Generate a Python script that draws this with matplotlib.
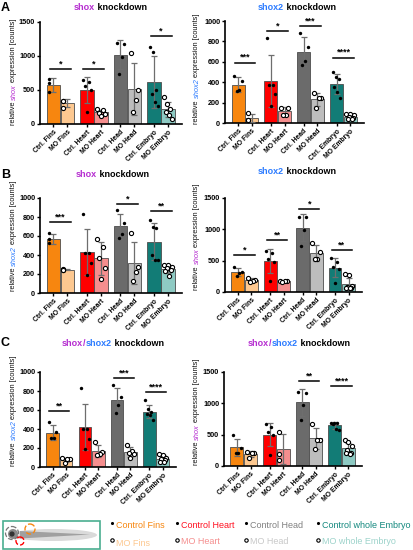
import numpy as np
import matplotlib
matplotlib.use('Agg')
import matplotlib.pyplot as plt
from matplotlib.patches import Ellipse, Circle, Rectangle, Polygon

plt.rcParams['font.family'] = ['Liberation Sans', 'DejaVu Sans']

W, H = 414, 550
fig = plt.figure(figsize=(W / 100, H / 100), dpi=100)

groups = ['Ctrl. Fins', 'MO Fins', 'Ctrl. Heart', 'MO Heart',
          'Ctrl. Head', 'MO Head', 'Ctrl. Embryo', 'MO Embryo']

ctrl_col = ['#F7860F', '#FF0000', '#6B6B6B', '#127C76']
mo_col = ['#FDC890', '#F58E8E', '#BDBDBD', '#8ECAC3']
MAG = '#B52BD0'
BLU = '#2B7BFF'

# ---- values (points per group) ----
# A left: shox knockdown, shox expression
a1_pts = [[660, 596, 464], [345, 340, 240],
          [640, 620, 560, 500, 180], [220, 200, 160, 150, 120],
          [1190, 1180, 985, 733], [1050, 500, 350, 170],
          [1130, 1060, 500, 330, 260, 440], [390, 300, 220, 170, 130, 80]]
a1_sig = [('*', 806), ('*', 806), None, ('*', 1295)]

# A right: shox2 knockdown, shox2 expression
a2_pts = [[456, 414, 326, 309], [95, 30, 30],
          [837, 375, 375, 283, 169], [147, 147, 81, 81],
          [879, 749, 603, 570], [293, 244, 244, 147],
          [500, 455, 430, 350, 300, 250], [90, 85, 80, 60, 50, 40, 35]]
a2_sig = [('***', 593), ('*', 905), ('***', 951), ('****', 642)]

# B left: shox knockdown, shox2 expression
b1_pts = [[629, 565, 523], [250, 245, 240],
          [830, 417, 417, 318, 187], [569, 488, 364, 258, 145],
          [876, 735, 622, 583], [629, 276, 216, 127],
          [770, 700, 682, 399, 346, 346], [300, 290, 275, 260, 245, 230, 180]]
b1_sig = [('***', 746), None, ('*', 936), ('**', 859)]

# B right: shox2 knockdown, shox expression
b2_pts = [[405, 320, 300, 260], [230, 187, 171, 160],
          [660, 620, 530, 480, 170], [175, 170, 170, 165],
          [1189, 1189, 991, 739], [787, 643, 525, 525],
          [540, 485, 400, 360, 150], [280, 270, 90, 80, 70, 60, 60]]
b2_sig = [('*', 589), ('**', 830), ('*', 1323), ('**', 670)]

# C left: shox/shox2 knockdown, shox2 expression
c1_pts = [[474, 368, 305, 305], [95, 85, 80, 40],
          [832, 404, 396, 298, 186], [263, 158, 140, 123],
          [867, 737, 649, 572], [235, 165, 150, 135, 100],
          [702, 614, 579, 561, 544, 498], [140, 125, 100, 85, 70, 55, 50]]
c1_sig = [('**', 586), None, ('***', 937), ('****', 789)]

# C right: shox/shox2 knockdown, shox expression
c2_pts = [[489, 287, 207, 207], [220, 215, 210, 130],
          [665, 622, 543, 500, 181], [543, 197, 90],
          [1181, 1170, 979, 729], [670, 410, 410, 266],
          [690, 685, 680, 675, 585, 570], [410, 383, 319, 250, 207, 207, 197]]
c2_sig = [None, None, ('**', 1351), ('****', 1277)]

xpos = np.array([0, 1, 2.4, 3.4, 4.8, 5.8, 7.2, 8.2])


def px_axes(l, t, r, b):
    return fig.add_axes([l / W, 1 - b / H, (r - l) / W, (b - t) / H])


def measure(s, **kw):
    r = fig.canvas.get_renderer()
    t1 = fig.text(0, 0, s + '|', **kw)
    t2 = fig.text(0, 0, '|', **kw)
    e1, e2 = t1.get_window_extent(r), t2.get_window_extent(r)
    t1.remove(); t2.remove()
    if kw.get('rotation', 0) == 90:
        return e1.height - e2.height
    return e1.width - e2.width


def rich(x, y, parts, rotation=0, anchor='center', **kw):
    # parts: (text, color, extra props); x, y in pixels from top-left
    lens = [measure(s, rotation=rotation, **kw, **ex) for s, c, ex in parts]
    total = sum(lens)
    if rotation == 90:
        pos = (H - y) if anchor == 'start' else (H - y) - total / 2
        for (s, c, ex), ln in zip(parts, lens):
            fig.text(x / W, pos / H, s, color=c, rotation=90, ha='center',
                     va='bottom', **kw, **ex)
            pos += ln
    else:
        pos = x - total / 2
        for (s, c, ex), ln in zip(parts, lens):
            fig.text(pos / W, 1 - y / H, s, color=c, ha='left',
                     va='center', **kw, **ex)
            pos += ln


def panel(box, pts, sig, ymax, step):
    ax = px_axes(*box)
    means = [np.mean(p) for p in pts]
    sds = [np.std(p, ddof=1) for p in pts]
    for i in range(8):
        pair = i // 2
        col = ctrl_col[pair] if i % 2 == 0 else mo_col[pair]
        ax.bar(xpos[i], means[i], width=0.95, color=col,
               edgecolor='#4D4D4D', linewidth=0.6, zorder=2)
        ax.errorbar(xpos[i], means[i], yerr=sds[i], color='#6E6E6E',
                    lw=0.9, capsize=2, capthick=0.9, zorder=3)
        n = len(pts[i])
        offs = np.linspace(-0.28, 0.28, n) if n > 1 else np.zeros(1)
        order = np.argsort(np.argsort(-np.array(pts[i])))
        offs = offs[(order * 3) % n] if n not in (3, 6) else offs[(order * 2 + order // (n // 2)) % n]
        if i % 2 == 0:
            ax.scatter(xpos[i] + offs, pts[i], s=6, color='black',
                       zorder=4, clip_on=False, linewidths=0)
        else:
            ax.scatter(xpos[i] + offs, pts[i], s=9, facecolor='white',
                       edgecolor='black', linewidths=0.8, zorder=4,
                       clip_on=False)
    for k, sg in enumerate(sig):
        if sg is None:
            continue
        stars, h = sg
        x0, x1 = xpos[2 * k] - 0.25, xpos[2 * k + 1] + 0.25
        ax.plot([x0, x1], [h, h], color='black', lw=1.1, zorder=5)
        ax.text((x0 + x1) / 2, h + ymax * 0.005, stars, ha='center',
                va='bottom', fontsize=6.5, fontweight='bold')
    ax.set_ylim(0, ymax)
    ax.set_xlim(-0.95, 9.2)
    ax.set_yticks(np.arange(0, ymax + 1, step))
    ax.set_xticks(xpos)
    ax.set_xticklabels(groups, rotation=45, ha='right',
                       rotation_mode='anchor', fontsize=4.9,
                       fontweight='bold')
    for lab in ax.get_yticklabels():
        lab.set_fontweight('bold')
    ax.tick_params(axis='y', labelsize=5.2, length=2.5, width=1, pad=1)
    ax.tick_params(axis='x', length=2, width=1, pad=1.5)
    for s in ['top', 'right']:
        ax.spines[s].set_visible(False)
    for s in ['left', 'bottom']:
        ax.spines[s].set_linewidth(1.2)
    return ax


boxes = {
    'a1': (40, 22, 182, 124), 'a2': (225, 21, 364, 123),
    'b1': (40, 198, 182, 293), 'b2': (225, 198, 362, 292),
    'c1': (40, 372, 176, 467), 'c2': (224, 372, 362, 466),
}
panel(boxes['a1'], a1_pts, a1_sig, 1500, 500)
panel(boxes['a2'], a2_pts, a2_sig, 1000, 200)
panel(boxes['b1'], b1_pts, b1_sig, 1000, 200)
panel(boxes['b2'], b2_pts, b2_sig, 1500, 500)
panel(boxes['c1'], c1_pts, c1_sig, 1000, 200)
panel(boxes['c2'], c2_pts, c2_sig, 1500, 500)

# titles
tkw = dict(fontsize=6.5, fontweight='bold')
shox_t = ('shox', MAG, {})
shox2_t = ('shox2', BLU, {})
kd = (' knockdown', 'black', {})
rich(110, 7, [shox_t, kd], **tkw)
rich(297, 7, [shox2_t, kd], **tkw)
rich(112, 175, [shox_t, kd], **tkw)
rich(297, 172, [shox2_t, kd], **tkw)
rich(113, 343, [shox_t, ('/', MAG, {}), shox2_t, kd], **tkw)
rich(299, 343, [shox_t, ('/', MAG, {}), shox2_t, kd], **tkw)


# y labels
def ylab(x, ybot, gene, col):
    rich(x, ybot, [('relative ', '#111111', {}),
                   (gene, col, {'fontstyle': 'italic'}),
                   (' expression [counts]', '#111111', {})],
         rotation=90, anchor='start', fontsize=5.3)


ylab(14, 125, 'shox', MAG)
ylab(197, 124, 'shox2', BLU)
ylab(14, 291, 'shox2', BLU)
ylab(197, 290, 'shox', MAG)
ylab(14, 466, 'shox2', BLU)
ylab(197, 465, 'shox', MAG)

# panel letters
for lt, yy in [('A', 8), ('B', 175), ('C', 343)]:
    fig.text(1 / W, 1 - yy / H, lt, fontsize=9, fontweight='bold',
             ha='left', va='center')

# legend strip with fish sketch
lg = fig.add_axes([0, 0, 1, 1], zorder=-1)
lg.set_xlim(0, W)
lg.set_ylim(H, 0)
lg.axis('off')
lg.add_patch(Rectangle((3, 521), 97, 28, fill=False, edgecolor='#4AAE90', lw=1.2))
lg.add_patch(Ellipse((53, 535), 88, 12, color='#DADADA', lw=0))
lg.add_patch(Polygon([[20, 531], [90, 534.5], [20, 538.5]], closed=True,
                     color='#A0A0A0', lw=0))
lg.add_patch(Circle((13, 534), 5, color='#8A8A8A', lw=0))
lg.add_patch(Circle((12, 534), 2.6, color='#333333', lw=0))
lg.add_patch(Circle((12, 533), 6.5, fill=False, edgecolor='#777777', lw=0.9, ls='--'))
lg.add_patch(Circle((30, 529), 5, fill=False, edgecolor='#F7860F', lw=1.0, ls='--'))
lg.add_patch(Circle((20, 541), 4, fill=False, edgecolor='#FF0000', lw=1.0, ls='--'))

leg_ctrl = ['Control Fins', 'Control Heart', 'Control Head', 'Control whole Embryo']
leg_mo = ['MO Fins', 'MO Heart', 'MO Head', 'MO whole Embryo']
leg_ctrl_col = ['#F7860F', '#FF1020', '#808080', '#13887E']
leg_mo_col = ['#FDC890', '#F58E8E', '#C8C8C8', '#9DD3CB']
col_x = [112, 177, 246, 318]
for k in range(4):
    lg.scatter(col_x[k], 522.5, s=5, color='black', linewidths=0)
    lg.text(col_x[k] + 4, 525, leg_ctrl[k], color=leg_ctrl_col[k],
            fontsize=6.5, ha='left', va='center')
    lg.scatter(col_x[k], 540, s=6, facecolor='white', edgecolor='black',
               linewidths=0.8)
    lg.text(col_x[k] + 4, 541.5 if k != 0 else 543, leg_mo[k],
            color=leg_mo_col[k], fontsize=6.5, ha='left', va='center')

fig.savefig('out.png', dpi=100)
